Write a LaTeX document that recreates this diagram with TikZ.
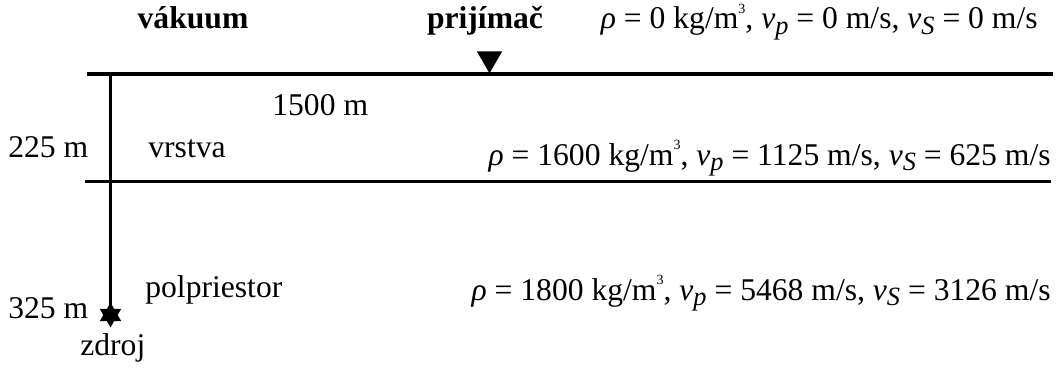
\documentclass[tikz,border=0pt]{standalone}
\usepackage{fontspec}
\setmainfont{Liberation Serif}
\usepackage{tikz}
\usetikzlibrary{positioning,shapes.geometric,arrows.meta}

\newcommand{\vel}[1]{\textit{v}\raisebox{-0.35ex}{\fontsize{15}{15}\selectfont\textit{#1}}}
\newcommand{\cube}{\raisebox{1.05ex}{\fontsize{8}{8}\selectfont 3}}
\newcommand{\medium}[3]{\textit{ρ} = #1 kg/m\cube, \vel{p} = #2 m/s, \vel{S} = #3 m/s}

\tikzset{
  interface/.style={line width=2.2pt},
  label/.style={inner sep=0pt,anchor=base west},
  params/.style={inner sep=0pt,anchor=base east},
  title/.style={inner sep=0pt,anchor=base,font=\fontsize{18}{21}\selectfont\bfseries}
}

\begin{document}
\begin{tikzpicture}[>=Stealth,x=0.02cm,y=-0.02cm,
   every node/.style={font=\fontsize{18}{21}\selectfont}]
  \useasboundingbox (0,0) rectangle (1058,368);
  % rozhrania
  \coordinate (s0) at (87,74);
  \coordinate (s1) at (1053,74);
  \coordinate (i0) at (85,181.5);
  \coordinate (i1) at (1051,181.5);
  \coordinate (axis) at (110.5,74);
  \draw[interface] (s0) -- (s1);
  \draw[interface] (i0) -- (i1);
  % prijimac a zdroj
  \node (rec) [regular polygon,regular polygon sides=3,shape border rotate=180,
    fill=black,inner sep=0pt,minimum size=16.6pt,anchor=corner 1] at (489.5,74) {};
  \node (src) [star,star points=6,star point ratio=1.75,fill=black,
    inner sep=0pt,minimum size=14.2pt] at (110.5,315) {};
  \draw[interface] (axis) -- (src.center);
  % popisy
  \node (vac) [title] at (193,29) {vákuum};
  \node (recl) [title] at (485,29) {prijímač};
  \node (m0) [params] at (1038,29) {\medium{0}{0}{0}};
  \node (dist) [label] at (272,115) {1500 m};
  \node (d1) [label] at (8,157) {225 m};
  \node (lay) [label] at (148,157) {vrstva};
  \node (m1) [params] at (1051,165) {\medium{1600}{1125}{625}};
  \node (half) [label] at (145,297) {polpriestor};
  \node (d2) [label] at (8,318) {325 m};
  \node (m2) [params] at (1051,300) {\medium{1800}{5468}{3126}};
  \node (srcl) [label] at (80,355) {zdroj};
\end{tikzpicture}
\end{document}
